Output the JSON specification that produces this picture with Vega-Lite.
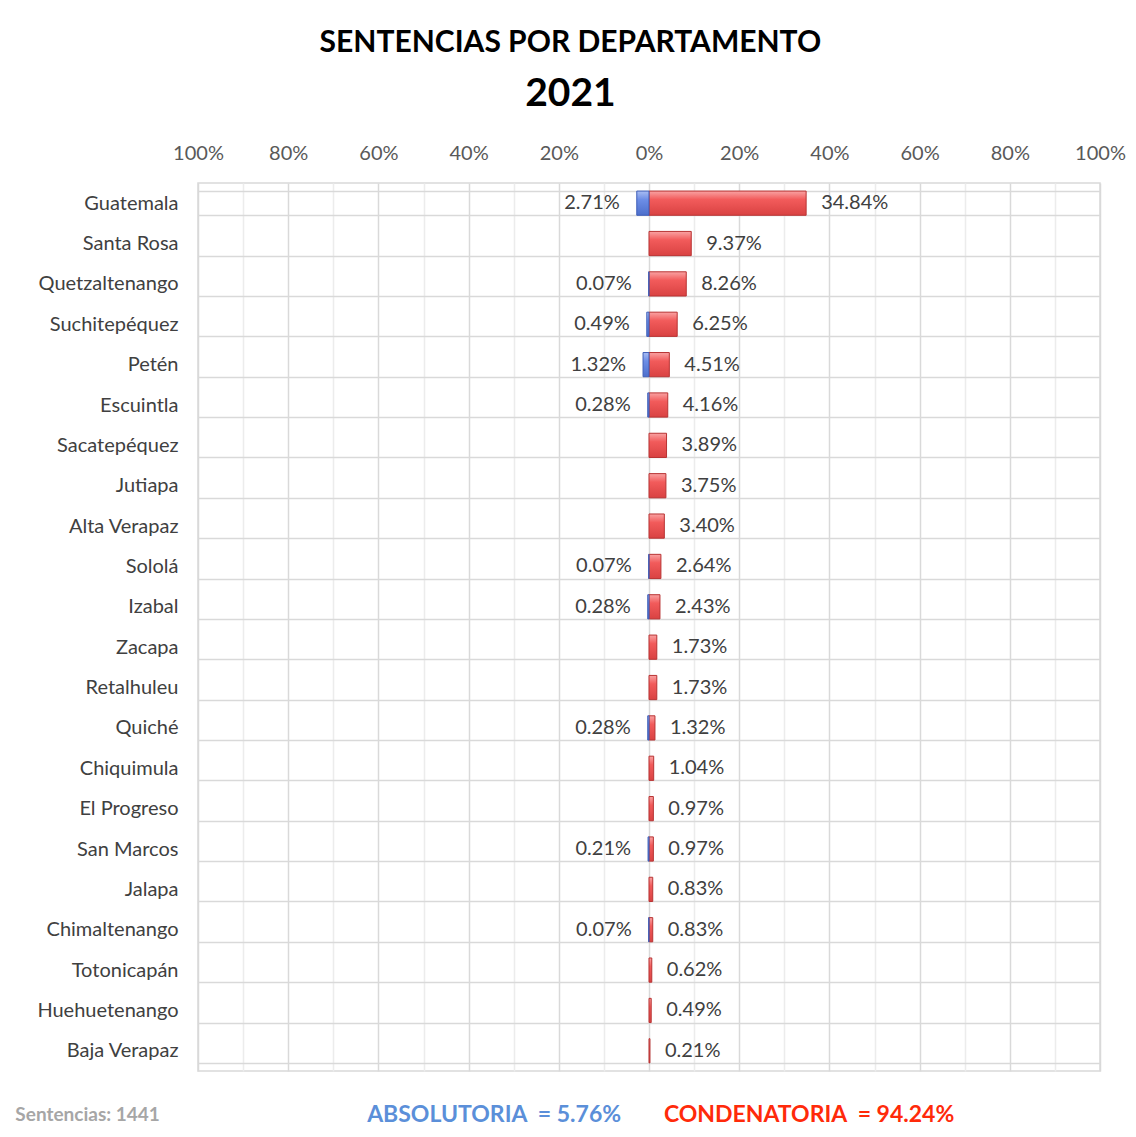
{
  "$schema": "https://vega.github.io/schema/vega-lite/v6.json",
  "width": 902,
  "height": 888,
  "padding": {"left": 15, "top": 28, "right": 5, "bottom": 5},
  "background": "white",
  "title": {
    "text": "SENTENCIAS POR DEPARTAMENTO",
    "subtitle": "2021",
    "anchor": "middle",
    "frame": "bounds",
    "font": "Lato",
    "fontSize": 30,
    "fontWeight": "bold",
    "color": "#000000",
    "subtitleFont": "Lato",
    "subtitleFontSize": 39,
    "subtitleFontWeight": "bold",
    "subtitleColor": "#000000",
    "subtitlePadding": 17,
    "offset": 24
  },
  "config": {
    "view": {"stroke": "#d9d9d9", "strokeWidth": 1.5},
    "font": "Lato"
  },
  "datasets": {
    "sentencias": [
      {"departamento": "Guatemala", "tipo": "Absolutoria", "valor": -2.71},
      {"departamento": "Guatemala", "tipo": "Condenatoria", "valor": 34.84},
      {"departamento": "Santa Rosa", "tipo": "Condenatoria", "valor": 9.37},
      {"departamento": "Quetzaltenango", "tipo": "Absolutoria", "valor": -0.07},
      {"departamento": "Quetzaltenango", "tipo": "Condenatoria", "valor": 8.26},
      {"departamento": "Suchitepéquez", "tipo": "Absolutoria", "valor": -0.49},
      {"departamento": "Suchitepéquez", "tipo": "Condenatoria", "valor": 6.25},
      {"departamento": "Petén", "tipo": "Absolutoria", "valor": -1.32},
      {"departamento": "Petén", "tipo": "Condenatoria", "valor": 4.51},
      {"departamento": "Escuintla", "tipo": "Absolutoria", "valor": -0.28},
      {"departamento": "Escuintla", "tipo": "Condenatoria", "valor": 4.16},
      {"departamento": "Sacatepéquez", "tipo": "Condenatoria", "valor": 3.89},
      {"departamento": "Jutiapa", "tipo": "Condenatoria", "valor": 3.75},
      {"departamento": "Alta Verapaz", "tipo": "Condenatoria", "valor": 3.40},
      {"departamento": "Sololá", "tipo": "Absolutoria", "valor": -0.07},
      {"departamento": "Sololá", "tipo": "Condenatoria", "valor": 2.64},
      {"departamento": "Izabal", "tipo": "Absolutoria", "valor": -0.28},
      {"departamento": "Izabal", "tipo": "Condenatoria", "valor": 2.43},
      {"departamento": "Zacapa", "tipo": "Condenatoria", "valor": 1.73},
      {"departamento": "Retalhuleu", "tipo": "Condenatoria", "valor": 1.73},
      {"departamento": "Quiché", "tipo": "Absolutoria", "valor": -0.28},
      {"departamento": "Quiché", "tipo": "Condenatoria", "valor": 1.32},
      {"departamento": "Chiquimula", "tipo": "Condenatoria", "valor": 1.04},
      {"departamento": "El Progreso", "tipo": "Condenatoria", "valor": 0.97},
      {"departamento": "San Marcos", "tipo": "Absolutoria", "valor": -0.21},
      {"departamento": "San Marcos", "tipo": "Condenatoria", "valor": 0.97},
      {"departamento": "Jalapa", "tipo": "Condenatoria", "valor": 0.83},
      {"departamento": "Chimaltenango", "tipo": "Absolutoria", "valor": -0.07},
      {"departamento": "Chimaltenango", "tipo": "Condenatoria", "valor": 0.83},
      {"departamento": "Totonicapán", "tipo": "Condenatoria", "valor": 0.62},
      {"departamento": "Huehuetenango", "tipo": "Condenatoria", "valor": 0.49},
      {"departamento": "Baja Verapaz", "tipo": "Condenatoria", "valor": 0.21}
    ],
    "pie": [
      {"departamento": "Baja Verapaz", "grupo": "total", "x": -140.5, "texto": "Sentencias: 1441"},
      {"departamento": "Baja Verapaz", "grupo": "abs", "x": -62.5, "texto": "ABSOLUTORIA\u00a0\u00a0= 5.76%"},
      {"departamento": "Baja Verapaz", "grupo": "con", "x": 3.3, "texto": "CONDENATORIA\u00a0\u00a0= 94.24%"}
    ]
  },
  "encoding": {
    "y": {
      "field": "departamento",
      "type": "nominal",
      "sort": ["Guatemala", "Santa Rosa", "Quetzaltenango", "Suchitepéquez", "Petén", "Escuintla", "Sacatepéquez", "Jutiapa", "Alta Verapaz", "Sololá", "Izabal", "Zacapa", "Retalhuleu", "Quiché", "Chiquimula", "El Progreso", "San Marcos", "Jalapa", "Chimaltenango", "Totonicapán", "Huehuetenango", "Baja Verapaz"],
      "scale": {"paddingInner": 0.4, "paddingOuter": 0.2},
      "axis": {
        "title": null,
        "ticks": false,
        "domain": false,
        "grid": true,
        "tickBand": "extent",
        "gridColor": "#d9d9d9",
        "gridWidth": 1.5,
        "labelFont": "Lato",
        "labelFontSize": 20,
        "labelColor": "#404040",
        "labelPadding": 20,
        "minExtent": 180,
        "maxExtent": 180
      }
    }
  },
  "layer": [
    {
      "data": {"name": "sentencias"},
      "transform": [{"filter": "datum.tipo === 'Condenatoria'"}],
      "mark": {
        "type": "bar",
        "fill": {
          "gradient": "linear", "x1": 0, "y1": 0, "x2": 0, "y2": 1,
          "stops": [
            {"offset": 0, "color": "#f9a3a3"},
            {"offset": 0.35, "color": "#f25b5b"},
            {"offset": 1, "color": "#d94242"}
          ]
        },
        "stroke": "#b83333",
        "strokeWidth": 1
      },
      "encoding": {
        "x": {
          "field": "valor",
          "type": "quantitative",
          "scale": {"domain": [-100, 100], "nice": false, "zero": false},
          "axis": {
            "orient": "top",
            "title": null,
            "values": [-100, -90, -80, -70, -60, -50, -40, -30, -20, -10, 0, 10, 20, 30, 40, 50, 60, 70, 80, 90, 100],
            "labelExpr": "datum.value % 20 === 0 ? abs(datum.value) + '%' : ''",
            "labelOverlap": false,
            "labelFlush": false,
            "labelFont": "Lato",
            "labelFontSize": 20,
            "labelColor": "#595959",
            "labelPadding": 20,
            "ticks": false,
            "domain": false,
            "grid": true,
            "gridColor": {"condition": {"test": "datum.value % 20 === 0", "value": "#d9d9d9"}, "value": "#ececec"},
            "gridWidth": 1.5,
            "minExtent": 45,
            "maxExtent": 45
          }
        },
        "x2": {"datum": 0}
      }
    },
    {
      "data": {"name": "sentencias"},
      "transform": [{"filter": "datum.tipo === 'Absolutoria'"}],
      "mark": {
        "type": "bar",
        "fill": {
          "gradient": "linear", "x1": 0, "y1": 0, "x2": 0, "y2": 1,
          "stops": [
            {"offset": 0, "color": "#a9bdf3"},
            {"offset": 0.35, "color": "#6d8ee6"},
            {"offset": 1, "color": "#4d6fcc"}
          ]
        },
        "stroke": "#3f5fb8",
        "strokeWidth": 1
      },
      "encoding": {
        "x": {"field": "valor", "type": "quantitative"},
        "x2": {"datum": 0}
      }
    },
    {
      "data": {"name": "sentencias"},
      "transform": [{"filter": "datum.tipo === 'Condenatoria'"}],
      "mark": {
        "type": "text",
        "align": "left",
        "baseline": "middle",
        "dx": 15,
        "font": "Lato",
        "fontSize": 20,
        "color": "#404040",
        "text": {"expr": "format(abs(datum.valor), '.2f') + '%'"}
      },
      "encoding": {
        "x": {"field": "valor", "type": "quantitative"}
      }
    },
    {
      "data": {"name": "sentencias"},
      "transform": [{"filter": "datum.tipo === 'Absolutoria'"}],
      "mark": {
        "type": "text",
        "align": "right",
        "baseline": "middle",
        "dx": -17,
        "font": "Lato",
        "fontSize": 20,
        "color": "#404040",
        "text": {"expr": "format(abs(datum.valor), '.2f') + '%'"}
      },
      "encoding": {
        "x": {"field": "valor", "type": "quantitative"}
      }
    },
    {
      "data": {"name": "pie"},
      "transform": [{"filter": "datum.grupo === 'total'"}],
      "mark": {
        "type": "text",
        "align": "left",
        "baseline": "middle",
        "dy": 64,
        "font": "Lato",
        "fontSize": 19,
        "fontWeight": "bold",
        "color": "#a6a6a6"
      },
      "encoding": {
        "x": {"field": "x", "type": "quantitative"},
        "text": {"field": "texto"}
      }
    },
    {
      "data": {"name": "pie"},
      "transform": [{"filter": "datum.grupo === 'abs'"}],
      "mark": {
        "type": "text",
        "align": "left",
        "baseline": "middle",
        "dy": 64,
        "font": "Lato",
        "fontSize": 23,
        "fontWeight": "bold",
        "color": "#5b8fd9"
      },
      "encoding": {
        "x": {"field": "x", "type": "quantitative"},
        "text": {"field": "texto"}
      }
    },
    {
      "data": {"name": "pie"},
      "transform": [{"filter": "datum.grupo === 'con'"}],
      "mark": {
        "type": "text",
        "align": "left",
        "baseline": "middle",
        "dy": 64,
        "font": "Lato",
        "fontSize": 23,
        "fontWeight": "bold",
        "color": "#ff2a0a"
      },
      "encoding": {
        "x": {"field": "x", "type": "quantitative"},
        "text": {"field": "texto"}
      }
    }
  ]
}
